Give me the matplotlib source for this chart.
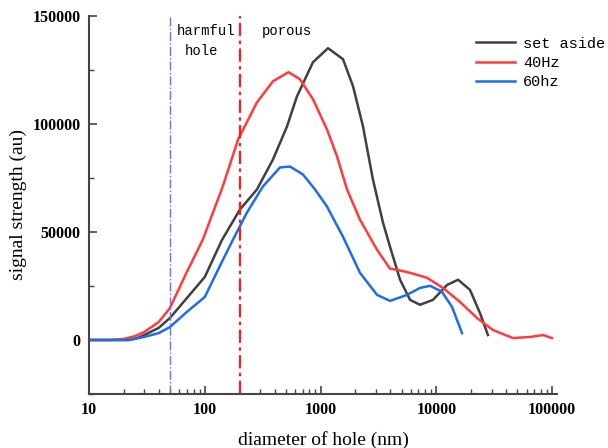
import matplotlib

matplotlib.use("Agg")

import matplotlib.pyplot as plt
from matplotlib.ticker import MultipleLocator, LogLocator, FixedLocator, FixedFormatter

# pore diameter (nm) and signal strength (au)
setaside_d = [10, 15, 22, 26, 30, 40, 50, 70, 100, 141, 201, 282, 388, 513,
              625, 859, 1159, 1561, 1905, 2323, 2831, 3459, 3973, 4855, 5919,
              7214, 9355, 12360, 15390, 19500, 23770, 27860]
setaside_s = [0, 0, 0, 800, 2300, 5600, 10200, 19400, 29200, 46400, 60400,
              69700, 83600, 98900, 112800, 128600, 135100, 130000, 117500,
              98900, 74300, 54300, 43200, 27900, 18600, 16300, 18600, 25500,
              27900, 23200, 12500, 2300]

hz40_d = [10, 15, 20, 25, 30, 40, 50, 70, 96, 143, 194, 282, 388, 529, 663,
          859, 1135, 1387, 1691, 2188, 3069, 3973, 4571, 5919, 8300, 11400,
          16000, 22400, 30800, 45900, 64300, 83300, 99500]
hz40_s = [0, 0, 500, 1800, 3700, 8300, 14800, 31500, 46400, 71100, 92900,
          110000, 119800, 124000, 120700, 111500, 97500, 85000, 69700, 55700,
          41800, 33000, 32500, 31100, 28800, 24100, 17600, 10200, 4600, 900,
          1400, 2300, 900]

hz60_d = [10, 15, 22, 30, 40, 50, 70, 100, 140, 175, 231, 318, 446, 545, 705,
          895, 1135, 1561, 2188, 3069, 3981, 5572, 7214, 8810, 11170, 13650,
          16640]
hz60_s = [0, 0, 0, 1400, 3200, 6000, 13000, 19900, 36000, 46400, 59000, 71100,
          79900, 80300, 76600, 69700, 61800, 47800, 31100, 20900, 18100, 20900,
          24100, 25100, 22300, 15300, 3200]

series_labels = ["set aside", "40Hz", "60hz"]
harmful_limit = 50
porous_limit = 200

SERIF = ["Liberation Serif", "DejaVu Serif"]
MONO = ["Liberation Mono", "DejaVu Sans Mono"]

fig = plt.figure(figsize=(6.08, 4.48), dpi=100)
ax = fig.add_axes([89 / 608, 1 - 394 / 448, 468 / 608, 378 / 448])

ax.plot(setaside_d, setaside_s, color="#404040", lw=1.8, label=series_labels[0])
ax.plot(hz40_d, hz40_s, color="#ff3b3b", lw=1.8, label=series_labels[1])
ax.plot(hz60_d, hz60_s, color="#1a6fe8", lw=1.8, label=series_labels[2])

ax.axvline(harmful_limit, color="#6a6aff", lw=1.0, ls="-.")
ax.axvline(porous_limit, color="#ff1a1a", lw=1.6, ls=(0, (6, 2, 1.5, 2)))

ax.set_xscale("log")
ax.set_xlim(10, 110000)
ax.set_ylim(-25000, 150000)

ax.xaxis.set_major_locator(FixedLocator([10, 100, 1000, 10000, 100000]))
ax.xaxis.set_major_formatter(FixedFormatter(["10", "100", "1000", "10000", "100000"]))
ax.xaxis.set_minor_locator(LogLocator(base=10, subs=range(2, 10)))
ax.yaxis.set_major_locator(FixedLocator([0, 50000, 100000, 150000]))
ax.yaxis.set_major_formatter(FixedFormatter(["0", "50000", "100000", "150000"]))
ax.yaxis.set_minor_locator(MultipleLocator(25000))

for side in ("top", "right"):
    ax.spines[side].set_visible(False)
for side in ("left", "bottom"):
    ax.spines[side].set_color("#444444")
    ax.spines[side].set_linewidth(1.5)

ax.tick_params(which="major", direction="in", length=6, width=1.2,
               color="#444444", pad=6)
ax.tick_params(which="minor", direction="in", length=3.5, width=1.0,
               color="#444444")
for lbl in ax.get_xticklabels() + ax.get_yticklabels():
    lbl.set_family(SERIF)
    lbl.set_fontweight("bold")
    lbl.set_fontsize(11.5)

ax.set_xlabel("diameter of hole (nm)", family=SERIF, fontsize=14, labelpad=9)
ax.set_ylabel("signal strength (au)", family=SERIF, fontsize=14, labelpad=4)

ax.text(57.5, 143000, "harmful", family=MONO, fontsize=10, va="center")
ax.text(94, 134000, "hole", family=MONO, fontsize=10, va="center", ha="center")
ax.text(312, 143000, "porous", family=MONO, fontsize=10, va="center")

leg = fig.legend(loc="upper left", bbox_to_anchor=(468 / 608, 1 - 29 / 448),
                 frameon=False, borderpad=0, handlelength=2.6,
                 handletextpad=0.5, labelspacing=0.35,
                 prop={"family": MONO, "size": 11})

fig.savefig("out.png", dpi=100)
